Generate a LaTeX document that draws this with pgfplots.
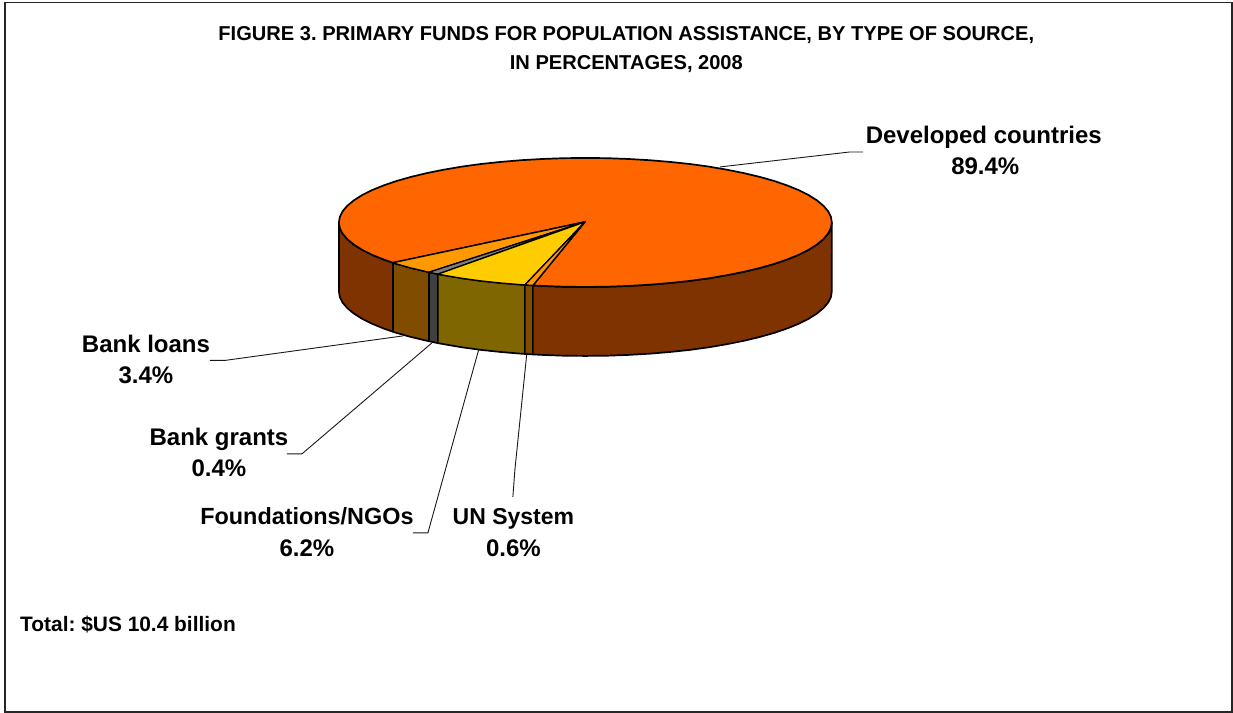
\documentclass[border=0pt]{standalone}
\usepackage{fontspec}
\setmainfont{Liberation Sans}
\usepackage{pgfplots}
\pgfplotsset{compat=1.18}
\definecolor{devtop}{HTML}{FF6600}
\definecolor{devside}{HTML}{7F3300}
\definecolor{loantop}{HTML}{FF9900}
\definecolor{loanside}{HTML}{804D00}
\definecolor{granttop}{HTML}{808080}
\definecolor{grantside}{HTML}{404040}
\definecolor{fndtop}{HTML}{FFCC00}
\definecolor{fndside}{HTML}{806600}
\newcommand{\lbl}{\fontsize{24}{28}\selectfont\bfseries}
\newcommand{\ttl}{\fontsize{20.1}{24}\selectfont\bfseries}
\frenchspacing
\begin{document}
\begin{tikzpicture}
\begin{axis}[
    x=1pt,y=1pt,
    xmin=0,xmax=1233,ymin=0,ymax=713,
    y dir=reverse,
    hide axis,
    clip=false,
    no markers,
    pie/.style={draw=black,line width=1.7pt,line join=round},
    leader/.style={draw=black!90,line width=0.9pt},
]
% page and frame
\addplot[fill=white,draw=none] coordinates {(0,0)(1233,0)(1233,713)(0,713)} --cycle;
\addplot[draw=black!85,line width=1.6pt,fill=white] coordinates {(5,2.5)(1232.5,2.5)(1232.5,712)(5,712)} --cycle;

% sides, left to right
\addplot[pie,fill=devside] coordinates {
 (393,262.8)(383.6,259.5)(372,254.8)(362.1,249.8)(353.9,244.6)(347.4,239.2)(342.7,233.7)(339.9,228.1)(339,222.5)
 (339,291.5)(339.9,297.1)(342.7,302.7)(347.4,308.2)(353.9,313.6)(362.1,318.8)(372,323.8)(383.6,328.5)(393,331.8)} --cycle;
\addplot[pie,fill=loanside] coordinates {
 (429,272.3)(411.2,268.1)(396.7,264)(393,262.8)
 (393,331.8)(396.7,333)(411.2,337.1)(429,341.3)} --cycle;
\addplot[pie,fill=grantside] coordinates {
 (438,274.2)(429,272.3)(429,341.3)(438,343.2)} --cycle;
\addplot[pie,fill=fndside] coordinates {
 (525,285)(521.7,284.8)(501.2,283.1)(481.3,281)(462.2,278.4)(444.1,275.3)(438,274.2)
 (438,343.2)(444.1,344.3)(462.2,347.4)(481.3,350)(501.2,352.1)(521.7,353.8)(525,354)} --cycle;
\addplot[pie,fill=loanside] coordinates {
 (533,285.5)(525,285)(525,354)(533,354.5)} --cycle;
\addplot[pie,fill=devside] coordinates {
 (832,222.5)(831.1,228.1)(828.3,233.7)(823.6,239.2)(817.1,244.6)(808.9,249.8)(799,254.8)(787.4,259.5)(774.3,264)
 (759.8,268.1)(743.9,271.9)(726.9,275.3)(708.8,278.4)(689.7,281)(669.8,283.1)(649.3,284.8)(628.3,286)(607,286.8)
 (585.5,287)(564,286.8)(542.7,286)(533,285.5)
 (533,354.5)(542.7,355)(564,355.8)(585.5,356)(607,355.8)(628.3,355)(649.3,353.8)(669.8,352.1)(689.7,350)(708.8,347.4)
 (726.9,344.3)(743.9,340.9)(759.8,337.1)(774.3,333)(787.4,328.5)(799,323.8)(808.9,318.8)(817.1,313.6)(823.6,308.2)
 (828.3,302.7)(831.1,297.1)(832,291.5)} --cycle;

% top: developed countries 89.4
\addplot[pie,fill=devtop] coordinates {
 (585,222)(393,262.8)(383.6,259.5)(372,254.8)(362.1,249.8)(353.9,244.6)(347.4,239.2)(342.7,233.7)(339.9,228.1)(339,222.5)
 (339.9,216.9)(342.7,211.3)(347.4,205.8)(353.9,200.4)(362.1,195.2)(372,190.2)(383.6,185.5)(396.7,181)(411.2,176.9)
 (427.1,173.1)(444.1,169.7)(462.2,166.6)(481.3,164)(501.2,161.9)(521.7,160.2)(542.7,159)(564,158.2)(585.5,158)
 (607,158.2)(628.3,159)(649.3,160.2)(669.8,161.9)(689.7,164)(708.8,166.6)(726.9,169.7)(743.9,173.1)(759.8,176.9)
 (774.3,181)(787.4,185.5)(799,190.2)(808.9,195.2)(817.1,200.4)(823.6,205.8)(828.3,211.3)(831.1,216.9)(832,222.5)
 (831.1,228.1)(828.3,233.7)(823.6,239.2)(817.1,244.6)(808.9,249.8)(799,254.8)(787.4,259.5)(774.3,264)(759.8,268.1)
 (743.9,271.9)(726.9,275.3)(708.8,278.4)(689.7,281)(669.8,283.1)(649.3,284.8)(628.3,286)(607,286.8)(585.5,287)
 (564,286.8)(542.7,286)(533,285.5)} --cycle;
% bank loans 3.4
\addplot[pie,line width=1.3pt,fill=loantop] coordinates {(585,222)(429,272.3)(411.2,268.1)(396.7,264)(393,262.8)} --cycle;
% bank grants 0.4
\addplot[pie,line width=1.3pt,fill=granttop] coordinates {(585,222)(438,274.2)(429,272.3)} --cycle;
% foundations 6.2
\addplot[pie,line width=1.3pt,fill=fndtop] coordinates {(585,222)(525,285)(521.7,284.8)(501.2,283.1)(481.3,281)(462.2,278.4)(444.1,275.3)(438,274.2)} --cycle;
% un system 0.6
\addplot[pie,line width=1.3pt,fill=loantop] coordinates {(585,222)(533,285.5)(525,285)} --cycle;

% leader lines
\addplot[leader] coordinates {(720,167)(850,152)(863,152)};
\addplot[leader] coordinates {(403,336)(225,360.5)(210,360.5)};
\addplot[leader] coordinates {(432,343)(302,454)(287,454)};
\addplot[leader] coordinates {(479,349)(428,533)(413,533)};
\addplot[leader] coordinates {(527,353)(515,470)(513,497)};

% text
\node[anchor=base] at (axis cs:626.5,40.5) {\ttl FIGURE 3. PRIMARY FUNDS FOR POPULATION ASSISTANCE, BY TYPE OF SOURCE,};
\node[anchor=base] at (axis cs:626.5,70) {\ttl IN PERCENTAGES, 2008};
\node[anchor=base] at (axis cs:984,144) {\lbl Developed countries};
\node[anchor=base] at (axis cs:985.5,175) {\lbl 89.4\%};
\node[anchor=base] at (axis cs:146,353) {\lbl Bank loans};
\node[anchor=base] at (axis cs:146,384) {\lbl 3.4\%};
\node[anchor=base] at (axis cs:219,446) {\lbl Bank grants};
\node[anchor=base] at (axis cs:219,477) {\lbl 0.4\%};
\node[anchor=base] at (axis cs:307,525) {\fontsize{23.4}{28}\selectfont\bfseries Foundations/NGOs};
\node[anchor=base] at (axis cs:307,557) {\lbl 6.2\%};
\node[anchor=base] at (axis cs:513.5,525) {\fontsize{23}{28}\selectfont\bfseries UN System};
\node[anchor=base] at (axis cs:513.5,557) {\lbl 0.6\%};
\node[anchor=base west,inner sep=0pt] at (axis cs:20,632) {\fontsize{20.9}{24}\selectfont\bfseries Total: \$US 10.4 billion};
\end{axis}
\end{tikzpicture}
\end{document}
